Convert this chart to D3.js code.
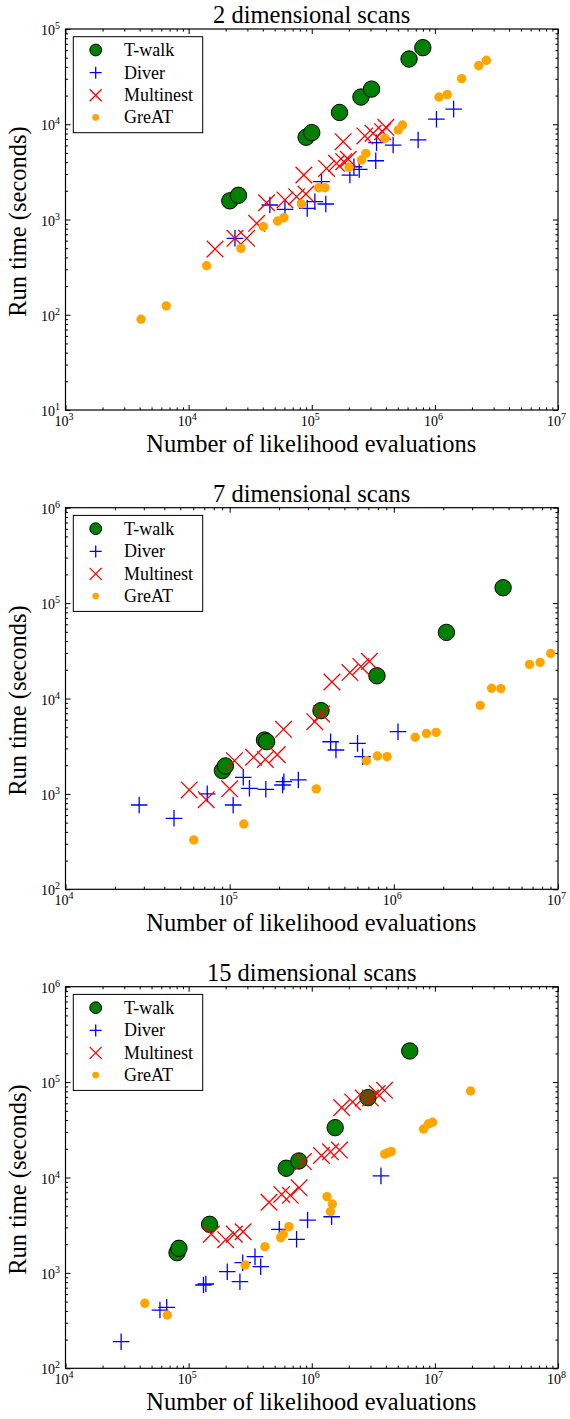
<!DOCTYPE html>
<html>
<head>
<meta charset="utf-8">
<script src="https://cdn.jsdelivr.net/npm/d3@7"></script>
<style>
  html, body { margin: 0; padding: 0; background: #fff; }
  svg { display: block; }
  text { font-family: "Liberation Serif", "Times New Roman", serif; fill: #000; }
</style>
</head>
<body>
<svg id="chart" width="570" height="1419"></svg>
<script>
// ---------------- DATA ----------------
const seriesNames = ["T-walk", "Diver", "Multinest", "GreAT"];
const panelTitles = ["2 dimensional scans", "7 dimensional scans", "15 dimensional scans"];
const xLabel = "Number of likelihood evaluations";
const yLabel = "Run time (seconds)";

// axis decade exponents per panel
const xExp2 = [3, 4, 5, 6, 7];
const yExp2 = [1, 2, 3, 4, 5];
const xExp7 = [4, 5, 6, 7];
const yExp7 = [2, 3, 4, 5, 6];
const xExp15 = [4, 5, 6, 7, 8];
const yExp15 = [2, 3, 4, 5, 6];

// ---- 2 dimensional scans ----
const twalk2N = [2.16e4, 2.54e4, 9.0e4, 1.0e5, 1.68e5, 2.51e5, 3.06e5, 6.17e5, 7.98e5];
const twalk2T = [1570, 1795, 7300, 8170, 1.33e4, 1.93e4, 2.34e4, 4.84e4, 6.37e4];

const diver2N = [2.38e4, 4.57e4, 6.06e4, 9.19e4, 1.06e5, 1.30e5, 1.20e5, 2.04e5, 2.20e5, 2.43e5, 3.31e5, 3.36e5, 4.58e5, 7.31e5, 1.03e6, 1.42e6];
const diver2T = [635, 1420, 1279, 1309, 1537, 1455, 2494, 2930, 3580, 3363, 4140, 6400, 6050, 6840, 1.13e4, 1.44e4];

const multi2N = [1.64e4, 2.38e4, 2.96e4, 3.57e4, 4.30e4, 6.06e4, 7.53e4, 8.97e4, 8.63e4, 1.32e5, 1.59e5, 1.82e5, 1.98e5, 1.80e5, 2.70e5, 3.15e5, 3.76e5, 4.0e5];
const multi2T = [490, 635, 635, 912, 1500, 1604, 1738, 1853, 2930, 3440, 3890, 4050, 4290, 6560, 7540, 8040, 8360, 9290];

const great2N = [4.11e3, 6.58e3, 1.40e4, 2.66e4, 4.04e4, 5.28e4, 5.95e4, 8.26e4, 1.14e5, 1.28e5, 2.01e5, 2.54e5, 2.75e5, 3.93e5, 5.04e5, 5.46e5, 1.08e6, 1.26e6, 1.65e6, 2.27e6, 2.62e6];
const great2T = [89.6, 124, 327, 498, 841, 964, 1045, 1455, 2158, 2158, 3530, 4220, 4950, 7110, 8710, 9810, 1.93e4, 2.05e4, 3.01e4, 4.12e4, 4.69e4];

// ---- 7 dimensional scans ----
const twalk7N = [9.03e4, 9.42e4, 1.63e5, 1.68e5, 3.60e5, 7.89e5, 2.09e6, 4.63e6];
const twalk7T = [1754, 1963, 3670, 3530, 7460, 1.73e4, 4.93e4, 1.45e5];

const diver7N = [2.81e4, 4.58e4, 7.3e4, 1.05e5, 1.21e5, 1.32e5, 1.66e5, 2.10e5, 2.14e5, 2.62e5, 4.12e5, 4.44e5, 6.01e5, 6.45e5, 1.06e6];
const diver7T = [765, 555, 1000, 765, 1493, 1145, 1117, 1239, 1343, 1400, 3520, 2884, 3389, 2455, 4490];

const multi7N = [5.67e4, 7.2e4, 1.0e5, 1.07e5, 1.40e5, 1.65e5, 1.95e5, 2.13e5, 3.3e5, 3.63e5, 4.2e5, 5.4e5, 6.3e5, 7.1e5];
const multi7T = [1100, 870, 1130, 2230, 2420, 2300, 2580, 4750, 5720, 6900, 1.49e4, 1.87e4, 2.17e4, 2.45e4];

const great7N = [6.04e4, 1.22e5, 3.37e5, 6.81e5, 7.94e5, 9.1e5, 1.35e6, 1.58e6, 1.81e6, 3.36e6, 3.94e6, 4.49e6, 6.71e6, 7.78e6, 9.03e6];
const great7T = [329, 484, 1128, 2228, 2496, 2455, 3920, 4310, 4420, 8470, 1.28e4, 1.27e4, 2.28e4, 2.39e4, 2.97e4];

// ---- 15 dimensional scans ----
const twalk15N = [8.05e4, 8.34e4, 1.48e5, 6.2e5, 7.86e5, 1.55e6, 2.86e6, 6.25e6];
const twalk15T = [1630, 1810, 3230, 1.25e4, 1.49e4, 3.33e4, 6.87e4, 2.12e5];

const diver15N = [2.83e4, 5.85e4, 6.64e4, 1.32e5, 1.38e5, 2.06e5, 2.61e5, 2.75e5, 3.46e5, 3.85e5, 5.45e5, 7.53e5, 9.25e5, 1.45e6, 3.65e6];
const diver15T = [190, 408, 436, 747, 765, 1030, 809, 1279, 1479, 1161, 2865, 2250, 3580, 3880, 1.04e4];

const multi15N = [1.53e5, 2.0e5, 2.35e5, 2.77e5, 4.5e5, 5.7e5, 6.7e5, 7.9e5, 8.55e5, 1.2e6, 1.42e6, 1.68e6, 1.75e6, 2.15e6, 2.62e6, 3.0e6, 3.4e6, 3.9e6];
const multi15T = [2550, 2230, 2550, 2700, 5500, 6640, 6500, 7800, 1.47e4, 1.7e4, 1.86e4, 1.94e4, 5.4e4, 6.2e4, 6.8e4, 6.8e4, 7.6e4, 8.2e4];

const great15N = [4.41e4, 6.71e4, 2.88e5, 4.17e5, 5.59e5, 5.87e5, 6.53e5, 1.33e6, 1.47e6, 1.42e6, 3.91e6, 4.18e6, 4.42e6, 8.09e6, 8.84e6, 9.59e6, 1.95e7];
const great15T = [480, 362, 1210, 1884, 2339, 2541, 3050, 6300, 5270, 4390, 1.76e4, 1.82e4, 1.87e4, 3.22e4, 3.64e4, 3.79e4, 8.07e4];

// ---------------- LAYOUT / STYLE ----------------
const W = 570;
const L = 65.5, R = 558;
const panels = [
  { title: panelTitles[0], top: 29,    bottom: 410,   xExp: xExp2,  yExp: yExp2,
    data: [[twalk2N, twalk2T], [diver2N, diver2T], [multi2N, multi2T], [great2N, great2T]] },
  { title: panelTitles[1], top: 507.7, bottom: 889.3, xExp: xExp7,  yExp: yExp7,
    data: [[twalk7N, twalk7T], [diver7N, diver7T], [multi7N, multi7T], [great7N, great7T]] },
  { title: panelTitles[2], top: 986.7, bottom: 1368.3, xExp: xExp15, yExp: yExp15,
    data: [[twalk15N, twalk15T], [diver15N, diver15T], [multi15N, multi15T], [great15N, great15T]] }
];
const styles = [
  { type: "circle", color: "#008000", size: 8.2, legendSize: 5.9 },
  { type: "plus",   color: "#0000ff", size: 8.3, legendSize: 6 },
  { type: "cross",  color: "#ff0000", size: 8.3, legendSize: 6 },
  { type: "dot",    color: "#ffa500", size: 4.7, legendSize: 3.4 }
];

const svg = d3.select("#chart");

function drawMarker(sel, st, cx, cy, s) {
  if (st.type === "circle") {
    sel.append("circle").attr("cx", cx).attr("cy", cy).attr("r", s)
      .attr("fill", st.color).attr("stroke", "#000").attr("stroke-width", 1);
  } else if (st.type === "dot") {
    sel.append("circle").attr("cx", cx).attr("cy", cy).attr("r", s)
      .attr("fill", st.color).attr("stroke", "none");
  } else if (st.type === "plus") {
    sel.append("path")
      .attr("d", `M${cx - s},${cy}H${cx + s}M${cx},${cy - s}V${cy + s}`)
      .attr("stroke", st.color).attr("stroke-width", 1.3).attr("fill", "none");
  } else {
    sel.append("path")
      .attr("d", `M${cx - s},${cy - s}L${cx + s},${cy + s}M${cx - s},${cy + s}L${cx + s},${cy - s}`)
      .attr("stroke", st.color).attr("stroke-width", 1.3).attr("fill", "none");
  }
}

function logTicks(exps) {
  const majors = exps.map(e => Math.pow(10, e));
  const minors = [];
  for (let i = 0; i < exps.length - 1; i++) {
    for (let k = 2; k <= 9; k++) minors.push(k * Math.pow(10, exps[i]));
  }
  return { majors, minors };
}

function powLabel(g, x, y, exp, anchor) {
  const t = g.append("text").attr("x", x).attr("y", y)
    .attr("text-anchor", anchor).style("font-size", "14px");
  t.append("tspan").text("10");
  t.append("tspan").attr("dy", -6).style("font-size", "10px").text(exp);
}

panels.forEach(p => {
  const T = p.top, B = p.bottom;
  const g = svg.append("g");
  const x = d3.scaleLog()
    .domain([Math.pow(10, p.xExp[0]), Math.pow(10, p.xExp[p.xExp.length - 1])])
    .range([L, R]);
  const y = d3.scaleLog()
    .domain([Math.pow(10, p.yExp[0]), Math.pow(10, p.yExp[p.yExp.length - 1])])
    .range([B, T]);

  const xt = logTicks(p.xExp), yt = logTicks(p.yExp);

  // data clip
  const clipId = "clip" + Math.round(T);
  svg.append("clipPath").attr("id", clipId)
    .append("rect").attr("x", L).attr("y", T).attr("width", R - L).attr("height", B - T);

  const marks = g.append("g").attr("clip-path", `url(#${clipId})`);
  p.data.forEach((d, si) => {
    const st = styles[si];
    const sg = marks.append("g");
    d[0].forEach((n, i) => drawMarker(sg, st, x(n), y(d[1][i]), st.size));
  });

  // ticks (inward, all four sides)
  const addAxis = (axisFn, scale, vals, size, transform) => {
    g.append("g").attr("transform", transform)
      .call(axisFn(scale).tickValues(vals).tickSizeInner(size).tickSizeOuter(0).tickFormat(() => ""))
      .call(a => a.select(".domain").remove())
      .call(a => a.selectAll(".tick line").attr("stroke", "#000").attr("stroke-width", 1));
  };
  addAxis(d3.axisBottom, x, xt.majors, -5, `translate(0,${B})`);
  addAxis(d3.axisBottom, x, xt.minors, -2.6, `translate(0,${B})`);
  addAxis(d3.axisTop, x, xt.majors, -5, `translate(0,${T})`);
  addAxis(d3.axisTop, x, xt.minors, -2.6, `translate(0,${T})`);
  addAxis(d3.axisLeft, y, yt.majors, -5, `translate(${L},0)`);
  addAxis(d3.axisLeft, y, yt.minors, -2.6, `translate(${L},0)`);
  addAxis(d3.axisRight, y, yt.majors, -5, `translate(${R},0)`);
  addAxis(d3.axisRight, y, yt.minors, -2.6, `translate(${R},0)`);

  // frame
  g.append("rect").attr("x", L).attr("y", T).attr("width", R - L).attr("height", B - T)
    .attr("fill", "none").attr("stroke", "#000").attr("stroke-width", 1.2);

  // tick labels
  xt.majors.forEach((v, i) => powLabel(g, x(v) - 1.5, B + 16, p.xExp[i], "middle"));
  yt.majors.forEach((v, i) => powLabel(g, L - 5.5, y(v) + 6, p.yExp[i], "end"));

  // title and axis labels
  g.append("text").attr("x", (L + R) / 2).attr("y", T - 5.7)
    .attr("text-anchor", "middle").style("font-size", "24.5px").text(p.title);
  g.append("text").attr("x", (L + R) / 2 - 0.5).attr("y", B + 42)
    .attr("text-anchor", "middle").style("font-size", "24.5px").text(xLabel);
  g.append("text")
    .attr("transform", `translate(25.5,${(T + B) / 2 + 2}) rotate(-90)`)
    .attr("text-anchor", "middle").style("font-size", "24.5px").text(yLabel);

  // legend
  const lg = g.append("g");
  lg.append("rect").attr("x", L + 7.8).attr("y", T + 7.7).attr("width", 129.4).attr("height", 96)
    .attr("fill", "#fff").attr("stroke", "#000").attr("stroke-width", 1);
  const rows = [21, 43.7, 66.2, 88.4];
  seriesNames.forEach((name, si) => {
    const cy = T + rows[si];
    drawMarker(lg, styles[si], L + 30.2, cy, styles[si].legendSize);
    lg.append("text").attr("x", L + 58.5).attr("y", cy + 5.8)
      .style("font-size", "18px").text(name);
  });
});
</script>
</body>
</html>
